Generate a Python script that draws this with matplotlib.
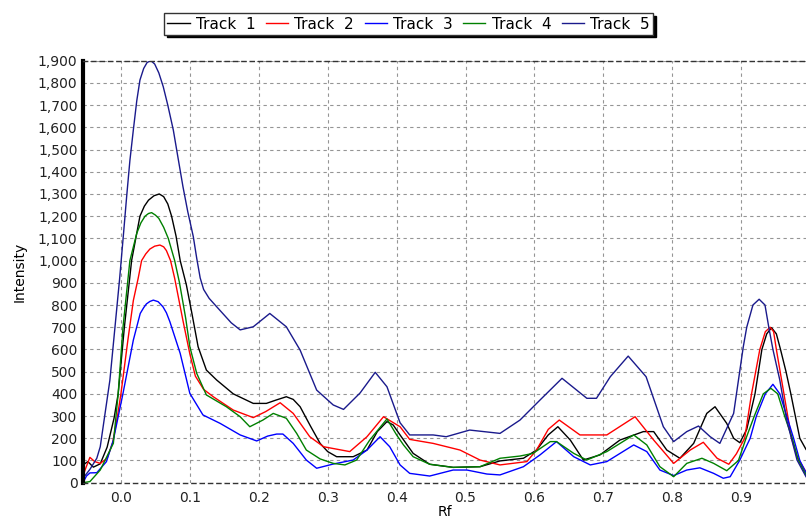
"""Денситограмма треков (Rf / Intensity)."""

import matplotlib

matplotlib.use("Agg")
import matplotlib.pyplot as plt
from matplotlib.ticker import FuncFormatter, MultipleLocator

plt.rcParams.update({
    "font.family": ["DejaVu Sans"],
    "font.size": 10,
})

# ── Данные ──
rf_1 = [-0.055, -0.048, -0.040, -0.030, -0.020, -0.010, -0.004, 0.005, 0.0155, 0.0276, 0.034, 0.040,
        0.048, 0.0556, 0.062, 0.068, 0.0735, 0.080, 0.086, 0.095, 0.103, 0.112, 0.124, 0.139, 0.163,
        0.192, 0.211, 0.225, 0.240, 0.250, 0.260, 0.275, 0.289, 0.300, 0.313, 0.337, 0.357, 0.372,
        0.386, 0.395, 0.405, 0.424, 0.448, 0.482, 0.521, 0.55, 0.584, 0.603, 0.620, 0.634, 0.652,
        0.671, 0.695, 0.724, 0.758, 0.773, 0.792, 0.811, 0.831, 0.850, 0.862, 0.879, 0.889, 0.898,
        0.908, 0.920, 0.930, 0.937, 0.944, 0.951, 0.957, 0.965, 0.972, 0.985, 0.994]
track_1 = [80, 95, 70, 85, 160, 290, 400, 700, 1000, 1200, 1245, 1272,
           1292, 1300, 1288, 1255, 1200, 1110, 1000, 890, 762, 612, 507, 462, 400,
           357, 357, 372, 387, 375, 342, 255, 177, 140, 117, 117, 147, 230,
           275, 260, 215, 132, 83, 69, 72, 98, 110, 147, 215, 252, 192,
           102, 125, 192, 230, 230, 147, 110, 177, 312, 342, 267, 200, 180,
           240, 400, 600, 670, 698, 670, 600, 500, 400, 200, 150]

rf_2 = [-0.055, -0.051, -0.045, -0.038, -0.030, -0.020, -0.012, -0.005, 0.000, 0.010, 0.018, 0.025,
        0.030, 0.036, 0.042, 0.049, 0.0566, 0.062, 0.066, 0.072, 0.078, 0.090, 0.100, 0.108, 0.120,
        0.134, 0.163, 0.192, 0.210, 0.231, 0.250, 0.274, 0.294, 0.332, 0.357, 0.381, 0.405, 0.419,
        0.453, 0.492, 0.521, 0.55, 0.589, 0.603, 0.620, 0.636, 0.666, 0.705, 0.746, 0.773, 0.802,
        0.826, 0.845, 0.865, 0.882, 0.893, 0.905, 0.915, 0.927, 0.935, 0.942, 0.947, 0.951, 0.962,
        0.973, 0.981, 0.994]
track_2 = [30, 66, 114, 95, 87, 110, 180, 300, 400, 640, 820, 920,
           1000, 1030, 1052, 1065, 1070, 1062, 1045, 1000, 920, 730, 580, 480, 420,
           387, 327, 293, 320, 360, 312, 207, 162, 140, 207, 297, 252, 195,
           177, 147, 102, 80, 95, 147, 240, 282, 215, 215, 297, 192, 87,
           147, 182, 110, 83, 130, 200, 400, 600, 680, 700, 680, 600, 400,
           200, 117, 48]

rf_3 = [-0.055, -0.050, -0.045, -0.035, -0.021, -0.011, 0.003, 0.018, 0.028, 0.033, 0.037, 0.042,
        0.047, 0.054, 0.061, 0.066, 0.071, 0.086, 0.100, 0.119, 0.144, 0.173, 0.197, 0.213, 0.226,
        0.235, 0.250, 0.269, 0.284, 0.308, 0.337, 0.357, 0.376, 0.390, 0.405, 0.419, 0.448, 0.482,
        0.502, 0.531, 0.55, 0.584, 0.608, 0.632, 0.657, 0.681, 0.705, 0.744, 0.763, 0.782, 0.802,
        0.821, 0.840, 0.860, 0.874, 0.884, 0.898, 0.913, 0.922, 0.935, 0.946, 0.956, 0.966, 0.976,
        0.985, 0.994]
track_3 = [0, 30, 44, 45, 95, 192, 402, 642, 762, 788, 805, 816,
           822, 815, 792, 765, 725, 582, 402, 305, 267, 215, 188, 210, 219,
           219, 177, 102, 65, 84, 102, 147, 207, 162, 80, 42, 30, 57,
           57, 39, 35, 72, 125, 185, 117, 80, 95, 170, 140, 57, 32,
           57, 67, 42, 20, 27, 102, 200, 300, 400, 443, 400, 300, 200,
           100, 45]

rf_4 = [-0.055, -0.045, -0.030, -0.011, -0.004, 0.003, 0.013, 0.023, 0.029, 0.035, 0.040, 0.0445,
        0.050, 0.055, 0.062, 0.0687, 0.078, 0.085, 0.094, 0.100, 0.110, 0.124, 0.153, 0.173, 0.187,
        0.206, 0.221, 0.240, 0.255, 0.269, 0.289, 0.308, 0.325, 0.342, 0.361, 0.386, 0.400, 0.410,
        0.424, 0.448, 0.482, 0.521, 0.55, 0.579, 0.598, 0.623, 0.632, 0.657, 0.676, 0.705, 0.744,
        0.763, 0.782, 0.802, 0.821, 0.843, 0.860, 0.879, 0.896, 0.907, 0.919, 0.932, 0.943, 0.953,
        0.963, 0.974, 0.983, 0.994]
track_4 = [0, 5, 57, 177, 400, 700, 1000, 1123, 1170, 1200, 1212, 1216,
           1205, 1190, 1150, 1100, 1000, 900, 740, 612, 492, 395, 342, 297, 252,
           282, 312, 290, 222, 147, 107, 87, 80, 102, 192, 287, 215, 170,
           117, 83, 69, 72, 110, 120, 132, 185, 185, 132, 102, 140, 215,
           170, 72, 27, 87, 110, 87, 54, 100, 200, 300, 400, 425, 400,
           300, 200, 100, 35]

rf_5 = [-0.055, -0.045, -0.035, -0.030, -0.016, -0.002, 0.004, 0.0083, 0.013, 0.018, 0.023, 0.0276,
        0.033, 0.038, 0.0435, 0.049, 0.055, 0.0614, 0.068, 0.076, 0.083, 0.090, 0.097, 0.105, 0.110,
        0.115, 0.120, 0.128, 0.139, 0.160, 0.173, 0.192, 0.216, 0.240, 0.260, 0.284, 0.308, 0.323,
        0.347, 0.369, 0.386, 0.405, 0.419, 0.453, 0.472, 0.506, 0.55, 0.579, 0.608, 0.640, 0.676,
        0.690, 0.710, 0.736, 0.762, 0.787, 0.802, 0.821, 0.838, 0.855, 0.869, 0.889, 0.903, 0.908,
        0.917, 0.926, 0.9345, 0.940, 0.946, 0.956, 0.966, 0.981, 0.994]
track_5 = [20, 60, 110, 162, 462, 915, 1130, 1288, 1450, 1588, 1720, 1813,
           1865, 1892, 1900, 1885, 1845, 1783, 1700, 1588, 1460, 1333, 1220, 1108, 1010,
           922, 870, 830, 792, 720, 688, 702, 762, 702, 597, 417, 350, 330,
           404, 497, 432, 270, 215, 215, 207, 237, 222, 282, 372, 470, 380,
           380, 477, 570, 477, 252, 185, 230, 255, 207, 177, 312, 612, 700,
           800, 826, 800, 700, 600, 462, 282, 102, 27]

track_names = ["Track  1", "Track  2", "Track  3", "Track  4", "Track  5"]
COLORS = ["#000000", "#FF0000", "#0000FF", "#008000", "#1A1A8C"]

fig = plt.figure(figsize=(8.06, 5.22), dpi=100)
ax = fig.add_axes([0.103, 0.0753, 0.897, 0.8084])

series = [(rf_1, track_1), (rf_2, track_2), (rf_3, track_3), (rf_4, track_4), (rf_5, track_5)]
for (xs, ys), name, color in zip(series, track_names, COLORS):
    ax.plot(xs, ys, color=color, linewidth=1.0, label=name, solid_joinstyle="round")

ax.set_xlim(-0.055, 0.994)
ax.set_ylim(0, 1900)
ax.xaxis.set_major_locator(MultipleLocator(0.1))
ax.yaxis.set_major_locator(MultipleLocator(100))
ax.xaxis.set_major_formatter(FuncFormatter(lambda v, _: f"{v:.1f}"))
ax.yaxis.set_major_formatter(FuncFormatter(lambda v, _: f"{int(round(v)):,}"))
ax.tick_params(axis="both", length=0, labelsize=10, colors="#222222")
ax.tick_params(axis="y", pad=4)
ax.tick_params(axis="x", pad=6)

# ── Сетка и рамка ──
ax.grid(True, color="#959595", linestyle=(0, (3, 3)), linewidth=0.8)
ax.spines["left"].set_linewidth(3)
ax.spines["left"].set_color("black")
ax.spines["right"].set_visible(False)
for side in ("top", "bottom"):
    ax.spines[side].set_color("#333333")
    ax.spines[side].set_linestyle((0, (3, 3)))
    ax.spines[side].set_linewidth(1.0)

ax.set_xlabel("Rf", fontsize=10, labelpad=0)
ax.set_ylabel("Intensity", fontsize=10, labelpad=8)

leg = ax.legend(
    loc="center",
    bbox_to_anchor=(0.507, 0.954),
    bbox_transform=fig.transFigure,
    ncol=5,
    fontsize=11,
    frameon=True,
    fancybox=False,
    shadow={"color": "black", "alpha": 1.0},
    edgecolor="#333333",
    handlelength=1.45,
    handletextpad=0.4,
    columnspacing=0.7,
    borderpad=0.2,
    borderaxespad=0,
)
leg.get_frame().set_linewidth(1.0)

fig.savefig("out.png", dpi=100)
plt.close(fig)
